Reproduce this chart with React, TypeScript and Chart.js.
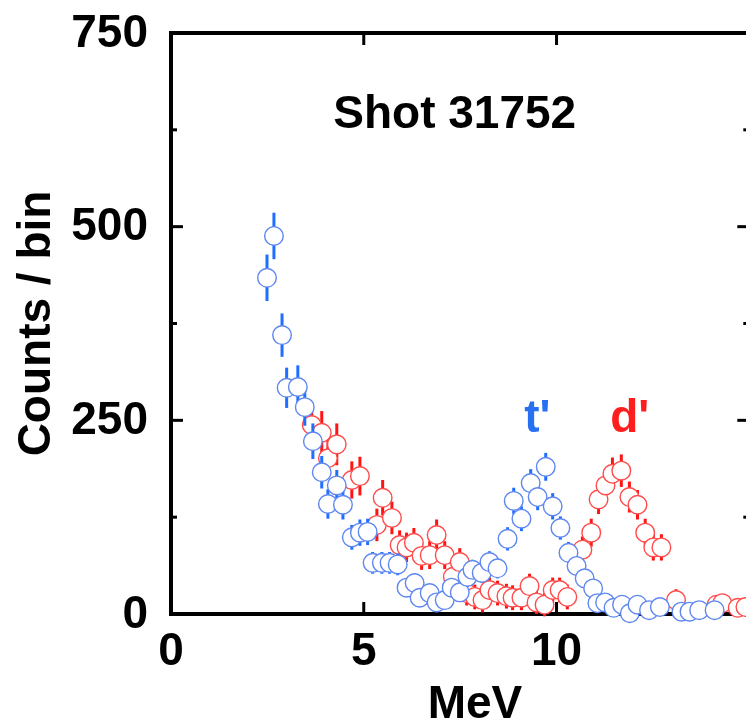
import React, { useEffect, useRef } from 'react';
import { Chart, registerables } from 'chart.js';

Chart.register(...registerables);

// ---- axis ticks ----
const xTickValues = [0, 5, 10];
const xTickLabels = ['0', '5', '10'];
const yTickValues = [0, 250, 500, 750];
const yTickLabels = ['0', '250', '500', '750'];
const yMinorTickValues = [125, 375, 625];

// ---- t' series (blue) ----
const blueX = [2.49, 2.67, 2.88, 3.0, 3.29, 3.47, 3.68, 3.91, 4.07, 4.3,
  4.46, 4.69, 4.9, 5.1, 5.23, 5.47, 5.67, 5.88, 6.11, 6.32,
  6.45, 6.71, 6.89, 7.1, 7.28, 7.49, 7.69, 7.82, 8.06, 8.26,
  8.47, 8.73, 8.89, 9.09, 9.33, 9.51, 9.72, 9.9, 10.1, 10.31,
  10.52, 10.73, 10.95, 11.06, 11.26, 11.48, 11.7, 11.9, 12.1, 12.4,
  12.68, 13.24, 13.45, 13.7, 14.1];
const blueY = [434, 488, 360, 292, 293, 267, 223, 183, 142, 166,
  141, 99, 105, 106, 66, 66, 66, 64, 34, 40,
  21, 27, 15, 18, 34, 28, 48, 57, 53, 67,
  59, 97, 146, 123, 169, 151, 190, 139, 111, 79,
  62, 46, 33, 14, 15, 8, 12, 1, 12, 5,
  9, 3, 3, 5, 5];
const blueErr = [30, 30, 28, 26, 28, 24, 23, 21, 19, 20,
  19, 16, 17, 17, 14, 14, 14, 14, 12, 12,
  11, 11, 10, 10, 12, 11, 13, 13, 13, 14,
  13, 15, 17, 16, 18, 17, 18, 17, 15, 14,
  13, 12, 11, 10, 10, 9, 10, 9, 10, 9,
  9, 9, 9, 9, 9];

// ---- d' series (red) ----
const redX = [3.65, 3.91, 4.07, 4.3, 4.69, 4.9, 5.34, 5.49, 5.73, 5.93,
  6.11, 6.3, 6.5, 6.71, 6.89, 7.1, 7.31, 7.49, 7.67, 7.88,
  8.08, 8.26, 8.47, 8.7, 8.86, 9.09, 9.3, 9.48, 9.69, 9.9,
  10.08, 10.28, 10.67, 10.9, 11.09, 11.27, 11.45, 11.68, 11.89, 12.1,
  12.3, 12.51, 12.72, 13.1, 14.15, 14.3, 14.7, 14.9];
const redY = [244, 234, 201, 219, 173, 178, 115, 150, 124, 89,
  86, 92, 75, 76, 102, 76, 48, 67, 27, 22,
  18, 31, 27, 23, 21, 21, 36, 15, 12, 31,
  31, 22, 83, 105, 148, 166, 181, 185, 151, 141,
  105, 86, 86, 18, 12, 14, 8, 9];
const redErr = [28, 28, 26, 27, 24, 25, 21, 23, 21, 19,
  19, 19, 18, 18, 20, 18, 17, 18, 16, 16,
  16, 16, 16, 16, 16, 16, 16, 15, 15, 16,
  16, 16, 17, 18, 19, 20, 21, 21, 20, 19,
  18, 17, 17, 14, 12, 12, 12, 12];

const errors = [blueErr, redErr];
const barColors = ['rgb(30,110,255)', 'rgb(255,20,20)'];

const FONT = 'bold 46px "Liberation Sans", Arial, Helvetica, sans-serif';

const framePlugin = {
  id: 'frame',
  beforeDatasetsDraw(chart: any) {
    const { ctx, chartArea: a, scales } = chart;
    const x = scales.x;
    const y = scales.y;
    ctx.save();
    ctx.strokeStyle = '#000';
    ctx.lineWidth = 4;
    ctx.strokeRect(a.left, a.top, a.right - a.left, a.bottom - a.top);
    ctx.lineWidth = 3;
    const seg = (x1: number, y1: number, x2: number, y2: number) => {
      ctx.beginPath();
      ctx.moveTo(x1, y1);
      ctx.lineTo(x2, y2);
      ctx.stroke();
    };
    for (const v of xTickValues) {
      const px = x.getPixelForValue(v);
      if (Math.abs(px - a.left) < 2) continue;
      seg(px, a.bottom, px, a.bottom - 12);
      seg(px, a.top, px, a.top + 12);
    }
    for (const v of yTickValues) {
      const py = y.getPixelForValue(v);
      if (Math.abs(py - a.bottom) < 2 || Math.abs(py - a.top) < 2) continue;
      seg(a.left, py, a.left + 12, py);
      seg(a.right, py, a.right - 12, py);
    }
    for (const v of yMinorTickValues) {
      const py = y.getPixelForValue(v);
      seg(a.left, py, a.left + 6, py);
      seg(a.right, py, a.right - 6, py);
    }
    ctx.fillStyle = '#000';
    ctx.font = FONT;
    ctx.textAlign = 'right';
    ctx.textBaseline = 'middle';
    yTickValues.forEach((v, i) => {
      ctx.fillText(yTickLabels[i], a.left - 23, y.getPixelForValue(v) + 1);
    });
    ctx.textAlign = 'center';
    ctx.textBaseline = 'alphabetic';
    xTickValues.forEach((v, i) => {
      ctx.fillText(xTickLabels[i], x.getPixelForValue(v), a.bottom + 51);
    });
    ctx.fillText('MeV', 475, a.bottom + 104);
    ctx.save();
    ctx.translate(37, (a.top + a.bottom) / 2);
    ctx.rotate(-Math.PI / 2);
    ctx.textBaseline = 'middle';
    ctx.fillText('Counts / bin', 0, 0);
    ctx.restore();
    ctx.fillText('Shot 31752', x.getPixelForValue(7.36), y.getPixelForValue(627));
    ctx.fillStyle = 'rgb(40,112,242)';
    ctx.fillText("t'", x.getPixelForValue(9.5), y.getPixelForValue(235));
    ctx.fillStyle = 'rgb(255,30,30)';
    ctx.fillText("d'", x.getPixelForValue(11.9), y.getPixelForValue(235));
    ctx.restore();
  },
  beforeDatasetDraw(chart: any, args: any) {
    const { ctx } = chart;
    const x = chart.scales.x;
    const y = chart.scales.y;
    const ds = chart.data.datasets[args.index];
    const err = errors[args.index];
    ctx.save();
    ctx.strokeStyle = barColors[args.index];
    ctx.lineWidth = 3;
    ds.data.forEach((p: any, i: number) => {
      const px = x.getPixelForValue(p.x);
      ctx.beginPath();
      ctx.moveTo(px, y.getPixelForValue(p.y + err[i]));
      ctx.lineTo(px, y.getPixelForValue(Math.max(p.y - err[i], -30)));
      ctx.stroke();
    });
    ctx.restore();
  },
};

export default function App() {
  const ref = useRef<HTMLCanvasElement | null>(null);
  useEffect(() => {
    if (!ref.current) return;
    const chart = new Chart(ref.current, {
      type: 'scatter',
      data: {
        datasets: [
          {
            label: "t'",
            data: blueX.map((v, i) => ({ x: v, y: blueY[i] })),
            pointRadius: 9.3,
            pointBorderWidth: 1.4,
            pointBorderColor: 'rgb(95,135,240)',
            pointBackgroundColor: '#ffffff',
            showLine: false,
            clip: false,
          },
          {
            label: "d'",
            data: redX.map((v, i) => ({ x: v, y: redY[i] })),
            pointRadius: 9.3,
            pointBorderWidth: 1.4,
            pointBorderColor: 'rgb(255,75,75)',
            pointBackgroundColor: '#ffffff',
            showLine: false,
            clip: false,
          },
        ],
      } as any,
      options: {
        animation: false,
        responsive: false,
        devicePixelRatio: 1,
        layout: { padding: { left: 171, top: 33, right: 10, bottom: 106 } },
        plugins: { legend: { display: false }, tooltip: { enabled: false } },
        scales: {
          x: { type: 'linear', min: 0, max: 15, display: false },
          y: { type: 'linear', min: 0, max: 750, display: false },
        },
      },
      plugins: [framePlugin],
    });
    return () => chart.destroy();
  }, []);
  return (
    <div style={{ position: 'fixed', left: 0, top: 0, width: 760, height: 720, background: '#fff' }}>
      <canvas ref={ref} width={760} height={720} />
    </div>
  );
}
